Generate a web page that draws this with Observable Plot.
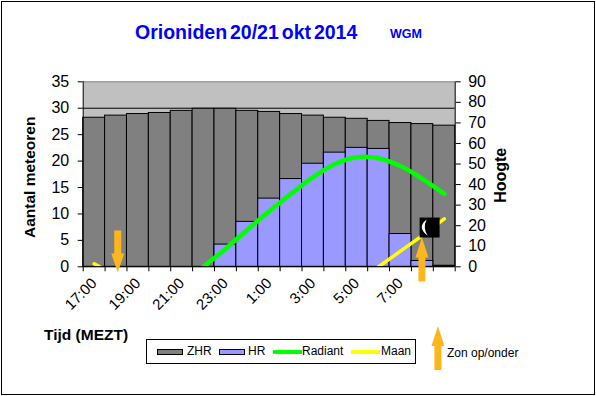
<!DOCTYPE html>
<html>
<head>
<meta charset="utf-8">
<script src="https://cdn.jsdelivr.net/npm/d3@7"></script>
<script src="https://cdn.jsdelivr.net/npm/@observablehq/plot@0.6"></script>
<style>
html,body{margin:0;padding:0;background:#fff;}
#wrap{position:relative;width:596px;height:396px;overflow:hidden;font-family:"Liberation Sans",Arial,sans-serif;}
#box{position:absolute;left:1px;top:1px;width:592px;height:392px;border:1px solid #000;}
#wrap svg{position:absolute;left:0;top:0;background:transparent;}
.t{position:absolute;white-space:nowrap;line-height:1;}
#title{left:135px;top:23px;font-size:19.5px;font-weight:bold;color:#0000ff;word-spacing:-2.5px;}
#wgm{left:390px;top:28px;font-size:12.5px;font-weight:bold;color:#0000ff;}
#tijd{left:44px;top:327px;font-size:15.5px;font-weight:bold;color:#000;}
#zon{left:447px;top:347px;font-size:12px;color:#000;}
#legend{position:absolute;left:146px;top:339px;width:268px;height:23px;border:1px solid #000;background:#fff;font-size:12px;}
#legend span{position:absolute;top:4px;line-height:14px;}
#legend i{position:absolute;display:block;box-sizing:border-box;}
</style>
</head>
<body>
<div id="wrap">
  <div id="box"></div>
  <div id="chart"></div>
  <div class="t" id="title">Orioniden 20/21 okt 2014</div>
  <div class="t" id="wgm">WGM</div>
  <div class="t" id="tijd">Tijd (MEZT)</div>
  <div class="t" id="zon">Zon op/onder</div>
  <div id="legend">
    <i style="left:10px;top:9px;width:26px;height:6px;background:#808080;border:1px solid #000"></i><span style="left:40px">ZHR</span>
    <i style="left:72px;top:9px;width:26px;height:6px;background:#9999ff;border:1px solid #000"></i><span style="left:101px">HR</span>
    <i style="left:126px;top:10px;width:29px;height:4px;background:#00ff00"></i><span style="left:155px">Radiant</span>
    <i style="left:204px;top:10px;width:29px;height:4px;background:#ffff00"></i><span style="left:234px">Maan</span>
  </div>
</div>
<script>
const hours = ["17:00","18:00","19:00","20:00","21:00","22:00","23:00","0:00","1:00","2:00","3:00","4:00","5:00","6:00","7:00","8:00","9:00"];
const shownHours = ["17:00","19:00","21:00","23:00","1:00","3:00","5:00","7:00"];
const zhr = [28.2,28.6,28.9,29.1,29.5,29.9,29.9,29.5,29.3,28.9,28.6,28.2,28.0,27.6,27.2,27.0,26.7];
const hr = [0,0,0,0,0,0,4.2,8.5,12.9,16.6,19.5,21.6,22.5,22.3,6.2,1.1,0.2];
const radiant = [null,null,null,null,-9,0,8.7,18,27,35.5,43.6,50,53.3,52.8,49,42.8,35.5];
const maan = [1.5,-4.3,null,null,null,null,null,null,null,null,null,null,-7.5,0,7.6,15.2,23.3];
const sunDown = [{pos:1.58,count:-1.08}];
const sunUp = [{pos:15.48,count:5.54},{pos:16.21,count:-11.2}];
const moonAt = [{pos:15.83,count:7.43}];

const toCount = a => a * 35 / 90;
const rows = hours.map((h,i)=>({i,h,zhr:zhr[i],hr:hr[i],radiant:radiant[i],maan:maan[i]}));
const posOf = h => hours.indexOf(h) + 0.5;

const arrowDown = {draw(c){c.moveTo(0,0);c.lineTo(6.5,-19);c.lineTo(3.5,-19);c.lineTo(3.5,-42);c.lineTo(-3.5,-42);c.lineTo(-3.5,-19);c.lineTo(-6.5,-19);c.closePath();}};
const arrowUp = {draw(c){c.moveTo(0,0);c.lineTo(6.5,20);c.lineTo(3.5,20);c.lineTo(3.5,44);c.lineTo(-3.5,44);c.lineTo(-3.5,20);c.lineTo(-6.5,20);c.closePath();}};
const moonSquare = {draw(c){c.moveTo(-10,-10);c.lineTo(10,-10);c.lineTo(10,10);c.lineTo(-10,10);c.closePath();}};
const crescent = {draw(c){c.moveTo(-3,-8);c.quadraticCurveTo(-13,0,-2,8);c.quadraticCurveTo(-7,0,-3,-8);c.closePath();}};

const font = "Liberation Sans";
const chart = Plot.plot({
  width:596, height:396,
  marginLeft:82.7, marginRight:141.3, marginTop:81.3, marginBottom:129.7,
  style:{fontFamily:font, background:"transparent", overflow:"visible"},
  x:{type:"linear",domain:[0,17]},
  y:{type:"linear",domain:[0,35]},
  marks:[
    Plot.frame({fill:"#c0c0c0",stroke:null}),
    Plot.ruleY([35],{stroke:"#808080"}),
    Plot.ruleY([30],{stroke:"#000"}),
    Plot.rectY(rows,{x1:"i",x2:d=>d.i+1,y:"zhr",fill:"#808080",stroke:"#000",strokeWidth:1}),
    Plot.rectY(rows.filter(d=>d.hr>0),{x1:"i",x2:d=>d.i+1,y:"hr",fill:"#9999ff",stroke:"#000",strokeWidth:1}),
    Plot.line(rows,{x:d=>d.i+0.5,y:d=>d.radiant==null?NaN:toCount(d.radiant),stroke:"#00ff00",strokeWidth:4.5,curve:"catmull-rom",clip:true}),
    Plot.line(rows,{x:d=>d.i+0.5,y:d=>d.maan==null?NaN:toCount(d.maan),stroke:"#ffff00",strokeWidth:3.5,clip:true}),
    Plot.ruleX([0,17],{stroke:"#000"}),
    Plot.ruleY([0],{stroke:"#000"}),
    Plot.axisX(d3.range(0,18),{tickSize:5,tickFormat:()=>"",label:null,stroke:"#000"}),
    Plot.axisX(shownHours.map(posOf),{tickSize:0,tickPadding:14,tickRotate:-45,tickFormat:v=>hours[v-0.5],label:null,fontSize:15,fill:"#000"}),
    Plot.axisY(d3.range(0,40,5),{anchor:"left",tickSize:5,tickPadding:9,label:null,fontSize:16,fill:"#000"}),
    Plot.axisY(d3.range(0,100,10).map(toCount),{anchor:"right",tickSize:5,tickPadding:8,tickFormat:v=>Math.round(v*90/35),label:null,fontSize:16,fill:"#000"}),
    Plot.text(["Aantal meteoren"],{frameAnchor:"left",textAnchor:"middle",rotate:-90,dx:-53,dy:3,fontSize:15.5,fontWeight:"bold",fill:"#000"}),
    Plot.text(["Hoogte"],{frameAnchor:"right",textAnchor:"middle",rotate:-90,dx:46,dy:1,fontSize:16,fontWeight:"bold",fill:"#000"}),
    Plot.dot(moonAt,{x:"pos",y:"count",symbol:moonSquare,fill:"#000",stroke:null}),
    Plot.dot(moonAt,{x:"pos",y:"count",symbol:crescent,fill:"#fff",stroke:null}),
    Plot.dot(sunDown,{x:"pos",y:"count",symbol:arrowDown,fill:"#fdb71c",stroke:null}),
    Plot.dot(sunUp,{x:"pos",y:"count",symbol:arrowUp,fill:"#fdb71c",stroke:null})
  ]
});
document.getElementById("chart").appendChild(chart);
</script>
</body>
</html>
